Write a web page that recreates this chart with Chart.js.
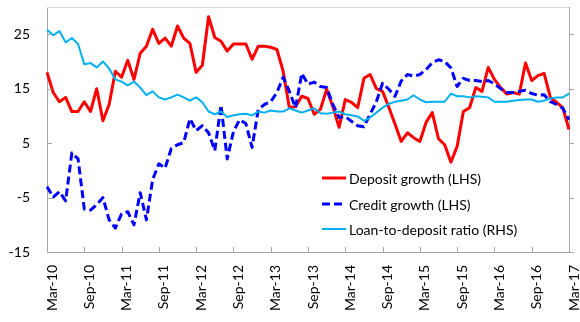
<!DOCTYPE html>
<html><head><meta charset="utf-8">
<script src="https://cdn.jsdelivr.net/npm/chart.js@4.4.0/dist/chart.umd.min.js"></script>
<style>html,body{margin:0;padding:0;background:#fff;overflow:hidden}#wrap{width:580px;height:322px;position:relative}</style>
</head><body><div id="wrap"><canvas id="c" width="580" height="322"></canvas></div>
<script>
// ---- data ----
const monthNames = ['Jan','Feb','Mar','Apr','May','Jun','Jul','Aug','Sep','Oct','Nov','Dec'];
const categories = [];
for (let k = 0; k < 85; k++) {
  const m = (2 + k) % 12, y = 2010 + Math.floor((2 + k) / 12);
  categories.push(monthNames[m] + '-' + String(y % 100).padStart(2, '0'));
}
const xTickLabels = ['Mar-10','Sep-10','Mar-11','Sep-11','Mar-12','Sep-12','Mar-13','Sep-13','Mar-14','Sep-14','Mar-15','Sep-15','Mar-16','Sep-16','Mar-17'];
const yTicks = [-15, -5, 5, 15, 25];

const depositGrowth = [18.0,14.3,12.6,13.4,10.8,10.8,12.6,10.8,15.0,9.1,
  12.1,18.2,17.1,20.2,16.7,21.5,22.8,25.9,23.3,24.3,
  22.8,26.5,24.3,23.3,18.0,19.3,28.2,24.4,23.7,21.9,
  23.2,23.2,23.2,20.4,22.8,22.8,22.6,22.2,18.2,11.5,
  11.7,13.6,13.2,10.3,11.2,14.9,11.7,7.9,13.0,12.5,
  11.5,16.9,17.6,15.0,14.5,11.6,8.5,5.3,6.9,6.0,
  5.3,8.8,10.6,5.8,4.7,1.5,4.4,10.8,11.5,15.2,
  14.5,18.9,16.7,15.2,14.0,14.3,14.0,19.7,16.5,17.4,
  17.8,13.4,12.5,11.5,7.5];
const creditGrowth = [-3.0,-4.9,-3.9,-5.6,3.2,2.1,-7.1,-7.3,-6.3,-5.0,
  -9.1,-10.6,-8.0,-7.6,-10.0,-4.1,-9.1,-1.7,1.2,0.4,
  4.0,4.7,5.1,9.5,7.3,8.2,6.9,3.6,12.0,2.1,
  7.1,9.3,8.6,4.2,11.2,12.1,12.6,14.3,17.1,14.5,
  11.5,17.8,15.8,16.2,15.4,15.2,12.1,9.7,9.9,9.0,
  8.2,8.0,10.3,12.6,16.0,14.9,13.6,16.4,17.6,17.3,
  17.6,18.5,19.8,20.3,20.0,18.8,15.4,16.9,16.5,16.5,
  16.3,16.5,15.9,15.0,14.3,14.3,14.5,14.7,14.1,13.8,
  13.9,12.6,12.1,11.4,9.3];
const loanToDeposit = [25.8,24.8,25.6,23.5,24.3,23.2,19.5,19.7,18.9,20.0,
  18.7,16.7,16.3,15.6,16.3,15.2,13.8,14.5,13.4,13.0,
  13.4,13.9,13.4,12.8,13.4,12.5,10.8,10.3,10.8,9.8,
  10.1,10.3,10.4,10.1,10.8,10.6,11.0,10.8,10.8,11.4,
  11.0,10.6,11.0,11.4,10.5,10.4,10.6,10.8,10.3,10.1,
  9.9,9.1,9.7,10.6,11.5,12.2,12.6,12.8,13.0,13.8,
  13.0,12.5,12.6,12.6,12.6,14.1,13.6,13.6,13.4,13.6,
  13.5,13.4,12.6,12.6,12.6,12.8,12.9,13.0,13.0,12.6,
  12.8,13.2,13.4,13.4,14.1];

// ---- style ----
const FONT = 'Lato';
const axisColor = '#a6a6a6';

const tickMarks = {
  id: 'tickMarks',
  afterDraw(chart) {
    const ctx = chart.ctx, a = chart.chartArea;
    ctx.save();
    ctx.strokeStyle = '#d9d9d9'; ctx.lineWidth = 1;
    ctx.beginPath(); ctx.moveTo(a.left, a.top + 0.5); ctx.lineTo(a.right, a.top + 0.5); ctx.stroke();
    ctx.strokeStyle = axisColor;
    ctx.beginPath();
    const y = chart.scales.y, y1 = chart.scales.y1, x = chart.scales.x;
    y.ticks.forEach(t => { const p = Math.round(y.getPixelForValue(t.value)) + 0.5; ctx.moveTo(a.left, p); ctx.lineTo(a.left + 5, p); });
    y1.ticks.forEach(t => { const p = Math.round(y1.getPixelForValue(t.value)) + 0.5; ctx.moveTo(a.right, p); ctx.lineTo(a.right + 5, p); });
    x.ticks.forEach(t => { const p = Math.round(x.getPixelForValue(t.value)) + 0.5; ctx.moveTo(p, a.bottom); ctx.lineTo(p, a.bottom - 5); });
    ctx.stroke();
    ctx.restore();
  }
};

const insideLegend = {
  id: 'insideLegend',
  afterDraw(chart) {
    const ctx = chart.ctx;
    const x0 = 322, x1 = 346, tx = 349, rows = [178, 204, 229];
    ctx.save();
    ctx.font = '14px ' + FONT;
    ctx.textBaseline = 'middle';
    ctx.fillStyle = '#000';
    chart.data.datasets.forEach((ds, i) => {
      const yy = rows[i];
      ctx.strokeStyle = ds.borderColor;
      ctx.lineWidth = ds.borderWidth;
      ctx.setLineDash(ds.borderDash || []);
      ctx.beginPath(); ctx.moveTo(x0, yy); ctx.lineTo(x1, yy); ctx.stroke();
      ctx.setLineDash([]);
      ctx.fillText(ds.label, tx, yy + 1);
    });
    ctx.restore();
  }
};

const scaleTicks = s => { s.ticks = yTicks.map(v => ({ value: v })); };

new Chart(document.getElementById('c'), {
  type: 'line',
  data: {
    labels: categories,
    datasets: [
      { label: 'Deposit growth (LHS)', data: depositGrowth, borderColor: '#ff0000', borderWidth: 3, yAxisID: 'y', order: 2 },
      { label: 'Credit growth (LHS)', data: creditGrowth, borderColor: '#0000ff', borderWidth: 3, borderDash: [8, 4], yAxisID: 'y', order: 1 },
      { label: 'Loan-to-deposit ratio (RHS)', data: loanToDeposit, borderColor: '#00b0f0', borderWidth: 2, yAxisID: 'y1', order: 0 }
    ]
  },
  options: {
    responsive: false, animation: false, devicePixelRatio: 1,
    layout: { padding: { top: 7, left: 0, right: 0, bottom: 0 } },
    plugins: { legend: { display: false }, tooltip: { enabled: false } },
    elements: { point: { radius: 0 }, line: { tension: 0, borderJoinStyle: 'round', borderCapStyle: 'butt' } },
    scales: {
      x: {
        type: 'category', offset: false,
        grid: { display: false, drawTicks: false },
        border: { display: true, color: axisColor },
        ticks: { autoSkip: false, minRotation: 90, maxRotation: 90, padding: 13, labelOffset: 5, color: '#000', font: { family: FONT, size: 14 } },
        afterBuildTicks: s => { s.ticks = s.ticks.filter(t => xTickLabels.includes(categories[t.value])); },
        afterFit: s => { s.height = 70; s.paddingLeft = 0; s.paddingRight = 0; s.paddingTop = 0; s.paddingBottom = 0; }
      },
      y: {
        position: 'left', min: -15, max: 30,
        grid: { display: false, drawTicks: false },
        border: { display: true, color: axisColor },
        ticks: { padding: 17, color: '#000', font: { family: FONT, size: 14 } },
        afterBuildTicks: scaleTicks,
        afterFit: s => { s.width = 47; s.paddingTop = 0; s.paddingBottom = 0; s.paddingLeft = 0; s.paddingRight = 0; }
      },
      y1: {
        position: 'right', min: -15, max: 30,
        grid: { display: false, drawTicks: false },
        border: { display: true, color: axisColor },
        ticks: { display: false },
        afterBuildTicks: scaleTicks,
        afterFit: s => { s.width = 11; s.paddingTop = 0; s.paddingBottom = 0; }
      }
    }
  },
  plugins: [tickMarks, insideLegend]
});
</script>
</body></html>
